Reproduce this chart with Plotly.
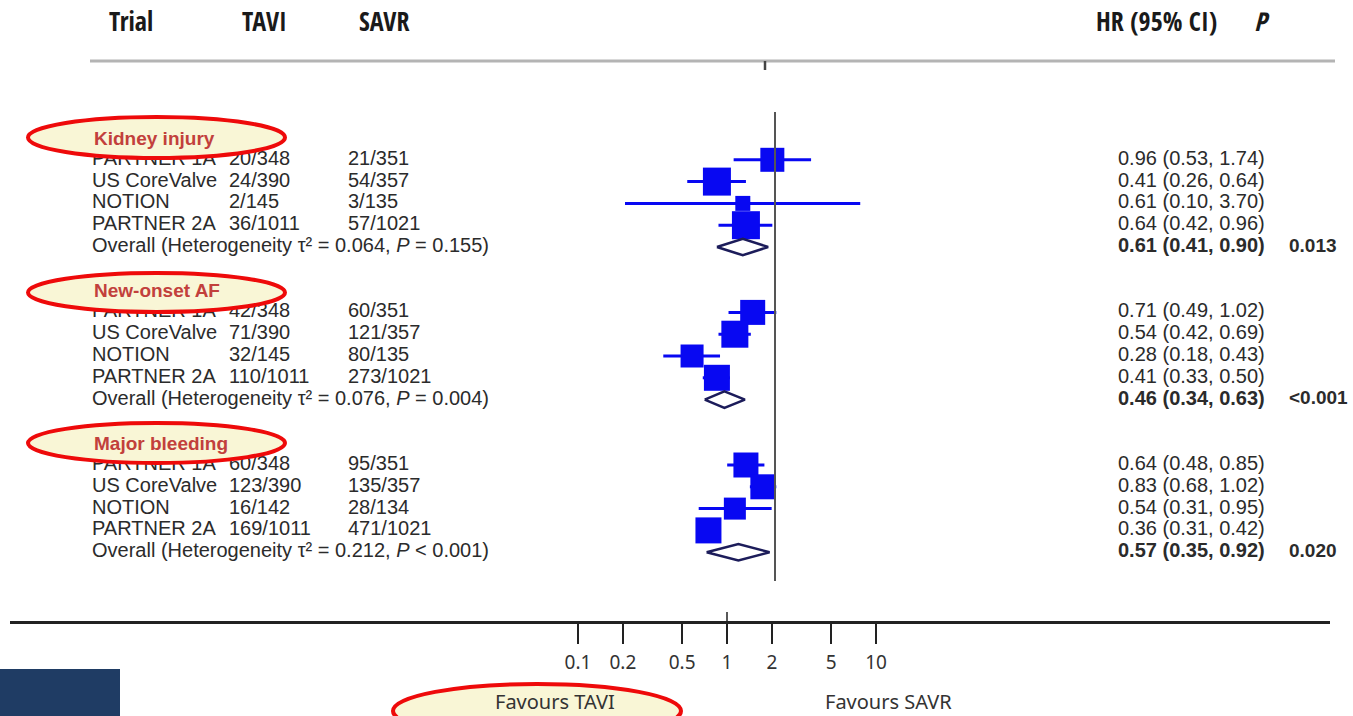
import plotly.graph_objects as go

# ---------------- data ----------------
groups = ["Kidney injury", "New-onset AF", "Major bleeding"]
trials = ["PARTNER 1A", "US CoreValve", "NOTION", "PARTNER 2A"]
tavi_events = [
    ["20/348", "24/390", "2/145", "36/1011"],
    ["42/348", "71/390", "32/145", "110/1011"],
    ["60/348", "123/390", "16/142", "169/1011"],
]
savr_events = [
    ["21/351", "54/357", "3/135", "57/1021"],
    ["60/351", "121/357", "80/135", "273/1021"],
    ["95/351", "135/357", "28/134", "471/1021"],
]
hr = [
    [0.96, 0.41, 0.61, 0.64],
    [0.71, 0.54, 0.28, 0.41],
    [0.64, 0.83, 0.54, 0.36],
]
hr_lo = [
    [0.53, 0.26, 0.10, 0.42],
    [0.49, 0.42, 0.18, 0.33],
    [0.48, 0.68, 0.31, 0.31],
]
hr_hi = [
    [1.74, 0.64, 3.70, 0.96],
    [1.02, 0.69, 0.43, 0.50],
    [0.85, 1.02, 0.95, 0.42],
]
overall_hr = [0.61, 0.46, 0.57]
overall_lo = [0.41, 0.34, 0.35]
overall_hi = [0.90, 0.63, 0.92]
tau2 = ["0.064", "0.076", "0.212"]
het_p = ["= 0.155", "= 0.004", "< 0.001"]
overall_p = ["0.013", "<0.001", "0.020"]
tick_vals = [0.1, 0.2, 0.5, 1, 2, 5, 10]
tick_text = ["0.1", "0.2", "0.5", "1", "2", "5", "10"]

# ---------------- styles ----------------
square_px = [[24, 28, 15, 28], [25, 27, 23, 26], [25, 25, 22, 26]]
W, H = 1353, 716
BODY = "Liberation Sans, Arial, sans-serif"
COND = "Noto Sans Condensed, Open Sans Condensed, Noto Sans, Liberation Sans, sans-serif"
COND_REG = "Noto Sans, Noto Sans Condensed, Open Sans, Liberation Sans, sans-serif"
TXT = "#2b2b2b"
BLUE = "#0808f2"
ROW0_PX, ROW_PX = 138.0, 21.8
X1_PX, DEC_PX = 775.0, 150.0


def px2x(px):  # pixel -> data value on the (log) forest axis
    return 10 ** ((px - X1_PX) / DEC_PX)


def px2py(py):
    return 1 - py / H


def cond(t):
    return f"<span style='font-stretch:condensed'>{t}</span>"


def cond_reg(t):
    return f"<span style='font-stretch:condensed;font-weight:400'>{t}</span>"


fig = go.Figure()

rows_trial, rows_overall, rows_head = [], [], []
for g in range(3):
    base = g * 7
    rows_head.append(base)
    rows_trial.append([base + 1 + i for i in range(4)])
    rows_overall.append(base + 5)

# CI lines
lx, ly = [], []
for g in range(3):
    for i in range(4):
        lx += [hr_lo[g][i], hr_hi[g][i], None]
        ly += [rows_trial[g][i]] * 2 + [None]
fig.add_trace(go.Scatter(x=lx, y=ly, mode="lines", line=dict(color=BLUE, width=3),
                         hoverinfo="skip", showlegend=False))

# squares
sx, sy, ss = [], [], []
for g in range(3):
    for i in range(4):
        sx.append(hr[g][i]); sy.append(rows_trial[g][i]); ss.append(square_px[g][i])
fig.add_trace(go.Scatter(x=sx, y=sy, mode="markers",
                         marker=dict(symbol="square", size=ss, color=BLUE, opacity=1,
                                     line=dict(width=0)),
                         showlegend=False))

# diamonds
dh = 0.38
for g in range(3):
    r = rows_overall[g]
    fig.add_trace(go.Scatter(
        x=[overall_lo[g], overall_hr[g], overall_hi[g], overall_hr[g], overall_lo[g]],
        y=[r, r - dh, r, r + dh, r], mode="lines", fill="toself", fillcolor="white",
        line=dict(color="#1c1c5a", width=2.5), hoverinfo="skip", showlegend=False))


def text_col(px, ys, texts, size=20):
    fig.add_trace(go.Scatter(
        x=[px2x(px)] * len(ys), y=ys, mode="text", text=texts,
        textposition="middle right", marker=dict(size=0),
        textfont=dict(family=BODY, size=size, color=TXT),
        hoverinfo="skip", showlegend=False))


ys_all, trial_t, tavi_t, savr_t, hr_t = [], [], [], [], []
ov_y, ov_t, ovhr_t = [], [], []
for g in range(3):
    for i in range(4):
        ys_all.append(rows_trial[g][i])
        trial_t.append(trials[i])
        tavi_t.append(tavi_events[g][i])
        savr_t.append(savr_events[g][i])
        hr_t.append(f"{hr[g][i]:.2f} ({hr_lo[g][i]:.2f}, {hr_hi[g][i]:.2f})")
    ov_y.append(rows_overall[g])
    ov_t.append(f"Overall (Heterogeneity τ² = {tau2[g]}, <i>P</i> {het_p[g]})")
    ovhr_t.append(f"<b>{overall_hr[g]:.2f} ({overall_lo[g]:.2f}, {overall_hi[g]:.2f})</b>")

text_col(92, ys_all, trial_t)
text_col(229, ys_all, tavi_t)
text_col(348, ys_all, savr_t)
text_col(1118, ys_all, hr_t)
text_col(92, ov_y, ov_t)
text_col(1118, ov_y, ovhr_t)
text_col(1289, ov_y, [f"<b>{p}</b>" for p in overall_p], size=19)

# invisible trace holding the bottom scale axis
fig.add_trace(go.Scatter(x=tick_vals, y=[10] * len(tick_vals), xaxis="x2", yaxis="y",
                         mode="markers", marker=dict(opacity=0), hoverinfo="skip",
                         showlegend=False))

shapes = []
for (x0, y0, x1, y1) in [(28, 117, 285, 158), (28, 273, 285, 312), (28, 423, 285, 463),
                         (393, 684, 681, 738)]:
    shapes.append(dict(type="circle", xref="paper", yref="paper",
                       x0=x0 / W, x1=x1 / W, y0=px2py(y1), y1=px2py(y0),
                       fillcolor="#f9f6d6", line=dict(color="#ee0a0a", width=4), layer="above"))
shapes.append(dict(type="line", xref="paper", yref="paper", x0=90 / W, x1=1335 / W,
                   y0=px2py(61), y1=px2py(61), line=dict(color="#b4b4b4", width=3)))
shapes.append(dict(type="line", xref="paper", yref="paper", x0=765 / W, x1=765 / W,
                   y0=px2py(61), y1=px2py(70), line=dict(color="#444", width=2.5)))
shapes.append(dict(type="line", xref="x", yref="paper", x0=1, x1=1,
                   y0=px2py(581), y1=px2py(112), line=dict(color="#555", width=2)))
shapes.append(dict(type="line", xref="x2", yref="paper", x0=1, x1=1,
                   y0=px2py(622), y1=px2py(612), line=dict(color="#222", width=1.5)))
shapes.append(dict(type="rect", xref="paper", yref="paper", x0=0, x1=120 / W,
                   y0=0, y1=px2py(669), fillcolor="#1f3c64", line=dict(width=0), layer="below"))

annotations = []
for g in range(3):
    annotations.append(dict(xref="paper", yref="y", x=92 / W, y=rows_head[g],
                            text=f"<b>{groups[g]}</b>",
                            xanchor="left", yanchor="middle", showarrow=False,
                            font=dict(family=BODY, size=19, color="#c2403c")))
for txt, cx in [("<b>Trial</b>", 131), ("<b>TAVI</b>", 264), ("<b>SAVR</b>", 384),
                ("<b>HR (95% CI)</b>", 1156), ("<b><i>P</i></b>", 1262)]:
    annotations.append(dict(xref="paper", yref="paper", x=cx / W, y=px2py(21), text=cond(txt),
                            xanchor="center", yanchor="middle", showarrow=False,
                            font=dict(family=COND, size=26, color="#1a1a1a")))
for txt, cx in [("Favours TAVI", 555), ("Favours SAVR", 888)]:
    annotations.append(dict(xref="paper", yref="paper", x=cx / W, y=px2py(701),
                            text=cond_reg(txt),
                            xanchor="center", yanchor="middle", showarrow=False,
                            font=dict(family=COND_REG, size=20, color="#333")))

y_bottom = (H - ROW0_PX) / ROW_PX
y_top = (0 - ROW0_PX) / ROW_PX
fig.update_layout(
    width=W, height=H, autosize=False,
    margin=dict(l=0, r=0, t=0, b=0, pad=0),
    paper_bgcolor="white", plot_bgcolor="rgba(0,0,0,0)",
    xaxis=dict(type="log", range=[(0 - X1_PX) / DEC_PX, (W - X1_PX) / DEC_PX],
               visible=False, domain=[0, 1]),
    xaxis2=dict(type="log", range=[(10 - 727) / 149, (1330 - 727) / 149],
                domain=[10 / W, 1330 / W], anchor="free", position=px2py(622),
                showline=True, linecolor="#222", linewidth=3, ticks="outside",
                ticklen=20, tickwidth=1.5, tickcolor="#222", tickvals=tick_vals,
                ticktext=[cond_reg(t) for t in tick_text], showgrid=False, zeroline=False,
                tickfont=dict(family=COND_REG, size=19, color="#333"), ticklabelstandoff=2),
    yaxis=dict(range=[y_bottom, y_top], visible=False, domain=[0, 1]),
    shapes=shapes, annotations=annotations, showlegend=False,
)
fig.write_html("out.html", config={"displayModeBar": False},
               post_script="document.body.style.margin='0px';")
